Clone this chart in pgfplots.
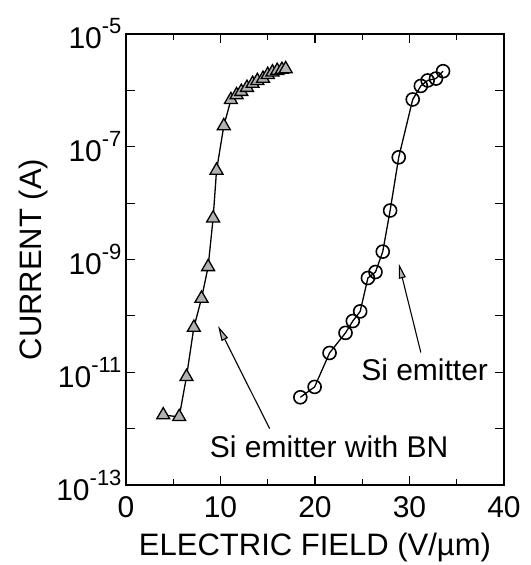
\documentclass[border=0pt]{standalone}
\usepackage{fontspec}
\setmainfont{Liberation Sans}
\usepackage{pgfplots}
\pgfplotsset{compat=1.18}
\usetikzlibrary{arrows.meta}

\newcommand{\tickf}{\fontsize{30bp}{34bp}\selectfont}
\newcommand{\labf}{\fontsize{31bp}{35bp}\selectfont}
\newcommand{\ex}[1]{\raisebox{0.5em}{\fontsize{22bp}{22bp}\selectfont #1}}

\begin{document}
\begin{tikzpicture}
\begin{axis}[
  scale only axis,
  width=378bp, height=451bp,
  xmin=0, xmax=40,
  ymode=log, ymin=1e-13, ymax=1e-5,
  xtick={0,10,20,30,40},
  xticklabels={0,10,20,30,40},
  minor xtick={5,15,25,35},
  ytick={1e-13,1e-12,1e-11,1e-10,1e-9,1e-8,1e-7,1e-6,1e-5},
  yticklabels={10\ex{-13},,10\ex{-11},,10\ex{-9},,10\ex{-7},,10\ex{-5}},
  yminorticks=false,
  tick align=inside,
  major tick length=9bp,
  minor tick length=6bp,
  tick style={black, line width=1.2bp},
  axis line style={line width=2.5bp},
  ticklabel style={font=\tickf},
  xticklabel style={yshift=-8bp},
  yticklabel style={xshift=-1bp},
  label style={font=\labf},
  xlabel={ELECTRIC FIELD (V/µm)},
  ylabel={CURRENT (A)},
  xlabel style={yshift=-8bp},
  ylabel style={yshift=2bp},
]
\coordinate (o) at (rel axis cs:0,0);

% Si emitter with BN
\addplot[black, line width=1.3bp, mark=triangle*, mark size=7.5bp,
  mark options={fill=gray!60, draw=black, line width=1.3bp}]
  coordinates {
  (3.94,1.74e-12) (5.63,1.62e-12) (6.4,8.3e-12) (7.18,6.2e-11)
  (7.99,2.04e-10) (8.69,7.4e-10) (9.22,5.4e-9) (9.58,3.8e-8)
  (10.35,2.34e-7) (11.1,6.8e-7) (11.7,8.3e-7) (12.2,9.5e-7)
  (12.8,1.12e-6) (13.4,1.32e-6) (13.9,1.48e-6) (14.5,1.62e-6)
  (15.0,1.9e-6) (15.5,2.1e-6) (16.0,2.24e-6) (16.5,2.34e-6)
  (16.9,2.4e-6)
  };

% Si emitter
\addplot[black, line width=1.3bp, mark=o, mark size=6.5bp,
  mark options={fill=white, draw=black, line width=1.6bp}]
  coordinates {
  (18.45,3.6e-12) (19.96,5.5e-12) (21.54,2.2e-11) (23.23,5.0e-11)
  (24.0,8.1e-11) (24.78,1.2e-10) (25.6,4.7e-10) (26.4,6.0e-10)
  (27.17,1.38e-9) (27.95,7.4e-9) (28.86,6.5e-8) (30.34,6.9e-7)
  (31.2,1.2e-6) (31.92,1.5e-6) (32.8,1.62e-6) (33.55,2.19e-6)
  };

\draw[line width=1.1bp, -{Triangle[length=15bp,width=7bp,fill=gray!60]}]
  (axis cs:15.2,1e-12) -- (axis cs:9.75,6.6e-11);
\draw[line width=1.1bp, -{Triangle[length=15bp,width=7bp,fill=gray!60]}]
  (axis cs:31.2,2.24e-11) -- (axis cs:28.86,8.5e-10);

\node[font=\tickf, inner sep=0pt] at (axis cs:21.5,4.8e-13) {Si emitter with BN};
\node[font=\tickf, inner sep=0pt] at (axis cs:31.6,1.1e-11) {Si emitter};
\end{axis}
\pgfresetboundingbox
\path (o) ++(-126bp,-80bp) rectangle ++(531bp,565bp);
\end{tikzpicture}
\end{document}
